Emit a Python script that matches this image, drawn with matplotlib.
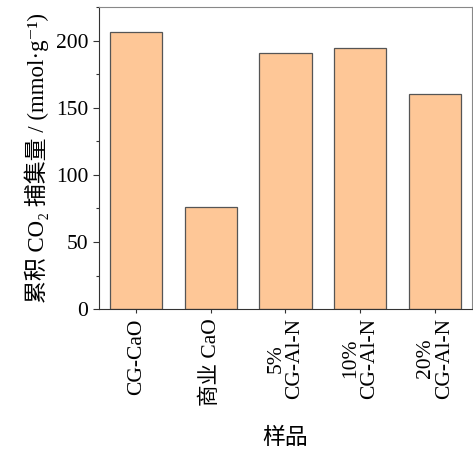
import matplotlib
matplotlib.use("Agg")
import matplotlib.pyplot as plt
from matplotlib.ticker import MultipleLocator

plt.rcParams['font.family'] = ['Liberation Serif', 'Noto Sans CJK SC', 'DejaVu Serif']

samples = ['CG-CaO', '商业 CaO', '5%\nCG-Al-N', '10%\nCG-Al-N', '20%\nCG-Al-N']
capture = [206.5, 76, 190.5, 194.5, 160.5]


def plot_capture():
    fig = plt.figure(figsize=(4.73, 4.5), dpi=100)
    ax = fig.add_axes([0.209, 0.313, 0.789, 0.671])
    x = range(len(samples))
    ax.bar(x, capture, width=0.7, color='#fec797', edgecolor='#555555', linewidth=0.9)

    ax.set_xlim(-0.5, 4.5)
    ax.set_ylim(0, 225)
    ax.set_xticks(list(x))
    ax.set_xticklabels(samples, rotation=90, fontsize=15.5, linespacing=1.0)
    ax.yaxis.set_major_locator(MultipleLocator(50))
    ax.yaxis.set_minor_locator(MultipleLocator(25))
    ax.tick_params(axis='y', labelsize=15.5, length=4, width=0.8, color='#333333')
    ax.tick_params(axis='y', which='minor', length=2.5, width=0.8, color='#333333')
    ax.tick_params(axis='x', length=3, width=0.8, color='#333333')

    for side in ['top', 'right']:
        ax.spines[side].set_color('#888888')
    for side in ['left', 'bottom']:
        ax.spines[side].set_color('#333333')
    for sp in ax.spines.values():
        sp.set_linewidth(0.8)

    ax.set_ylabel('累积 CO₂ 捕集量 / (mmol·g⁻¹)', fontsize=16.5, labelpad=5)
    ax.set_xlabel('样品', fontsize=16.5, labelpad=16)
    fig.savefig('out.png', dpi=100)


def main():
    plot_capture()


if __name__ == "__main__":
    main()
